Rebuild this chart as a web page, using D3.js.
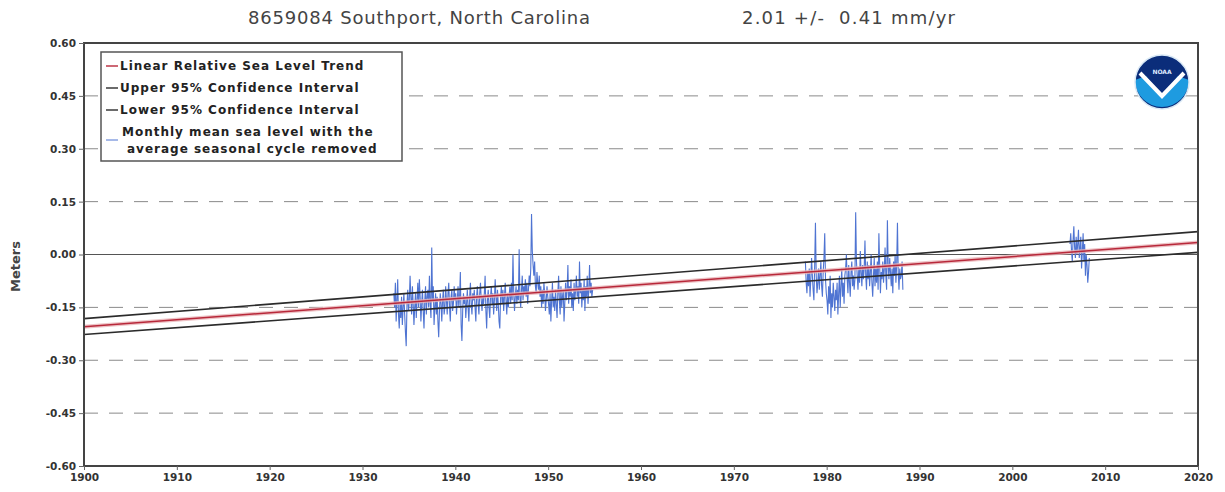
<!DOCTYPE html>
<html>
<head>
<meta charset="utf-8">
<script src="https://cdn.jsdelivr.net/npm/d3@7"></script>
<style>
  html, body { margin: 0; padding: 0; background: #fff; }
  svg { display: block; }
  text { font-family: "DejaVu Sans", Arial, sans-serif; }
</style>
</head>
<body>
<svg id="chart" width="1225" height="492"></svg>
<script>
// ---------------- DATA ----------------
const titleLeft = "8659084 Southport, North Carolina";
const titleRight = "2.01 +/-  0.41 mm/yr";
const yLabel = "Meters";
const xTicks = [1900, 1910, 1920, 1930, 1940, 1950, 1960, 1970, 1980, 1990, 2000, 2010, 2020];
const yTicks = [-0.60, -0.45, -0.30, -0.15, 0.00, 0.15, 0.30, 0.45, 0.60];
const legendLabels = [
  "Linear Relative Sea Level Trend",
  "Upper 95% Confidence Interval",
  "Lower 95% Confidence Interval",
  "Monthly mean sea level with the",
  "average seasonal cycle removed"
];

// trend lines (meters) at the ends of the axis
const trendYears = [1900, 2020];
const trendVals = [-0.205, 0.034];
const upperVals = [-0.182, 0.065];
const lowerVals = [-0.227, 0.006];

// monthly mean sea level (millimetres), segments [startYear, startMonth]
const seg1Start = [1933, 5];
const seg1 = [
  -110, -150, -80, -190, -130, -70, -170, -210,
  -140, -180, -120, -200, -150, -110, -170, -220, -260, -140, -100, -160,
  -130, -60, -120, -170, -90, -140, -200, -150, -110, -180, -130, -80,
  -150, -70, -120, -190, -140, -100, -160, -210, -130, -90, -170, -120,
  -100, -150, -60, -140, -180, 20, -130, -90, -200, -150, -110, -170,
  -120, -190, -235, -160, -110, -140, -190, -130, -100, -170, -150, -90,
  -130, -170, -110, -80, -150, -190, -120, -100, -160, -140, -90, -130,
  -110, -170, -130, -90, -150, -120, -50, -200, -245, -160, -110, -140,
  -120, -180, -140, -100, -150, -190, -120, -80, -140, -170, -110, -130,
  -100, -150, -190, -120, -90, -140, -170, -110, -80, -130, -160, -120,
  -140, -110, -60, -160, -210, -130, -100, -150, -180, -120, -90, -140,
  -110, -170, -130, -70, -120, -160, -100, -140, -190, -210, -120, -90,
  -140, -100, -160, -120, -80, -130, -170, -110, -150, -120, -90, -140,
  -80, -130, 0, -110, -160, -120, -90, -140, -100, -130, 15, -120,
  -150, -100, -60, -130, -90, -110, -70, -120, -80, -140, -100, -60,
  -90, -40, 115, 10, -30, -60, -20, -90, -110, -50, -80, -100,
  -60, -120, -90, -150, -100, -140, -80, -110, -160, -130, -90, -120,
  -140, -170, -110, -190, -130, -80, -150, -120, -160, -100, -140, -180,
  -110, -60, -130, -170, -90, -150, -120, -100, -190, -140, -80, -130,
  -100, -30, -140, -90, -120, -70, -150, -110, -160, -80, -130, -100,
  -60, -120, -90, -140, -20, -110, -80, -150, -100, -130, -70, -160,
  -90, -120, -60, -140, -100, -30, -110, -80, -120, -100
];
const seg2Start = [1977, 9];
const seg2 = [
  -20, -80, -110, -50,
  -90, -40, -120, -70, -10, -60, -100, -130, -30, 90, -60, -110,
  -80, -40, -100, -60, -20, -90, -120, -50, -10, 60, -70, -110,
  -130, -170, -90, -140, -60, -180, -110, -150, -80, -120, -160, -100,
  -130, -80, -170, -110, -60, -150, -90, -40, -120, -80, -140, -60,
  -40, 0, -70, -110, -30, -80, -120, -50, -20, -90, -60, -100,
  -70, 120, -20, -60, -100, -40, -80, 10, -50, -90, -30, -70,
  -40, 40, -60, -100, -20, -70, -30, -90, -50, 0, -80, -120,
  -60, -10, -90, -40, -80, -20, -100, 60, -30, -110, -50, -70,
  -20, -80, -40, 20, -60, -100, 97, -30, -70, -10, -50, -90,
  -40, -110, -20, -60, 0, -80, -30, 90, -50, -100, -40, -70,
  -60, -20, -100
];
const seg3Start = [2006, 3];
const seg3 = [
  30, 60, 10, -20, 40, 80, 20, -10, 50, 0,
  30, 70, -10, 20, 50, -40, 10, 60, -20, 30, -60, 0,
  -30, -80, -50, -10
];

// ---------------- CHART ----------------
const svg = d3.select("#chart");
const W = 1225, H = 492;
const m = { left: 84, right: 27, top: 43, bottom: 26 };
const x = d3.scaleLinear().domain([1900, 2020]).range([m.left, W - m.right]);
const y = d3.scaleLinear().domain([-0.6, 0.6]).range([H - m.bottom, m.top]);

function toPoints(start, vals) {
  return vals.map((v, i) => ({ t: start[0] + (start[1] - 1 + i) / 12 + 1 / 24, v: v / 1000 }));
}
const segments = [toPoints(seg1Start, seg1), toPoints(seg2Start, seg2), toPoints(seg3Start, seg3)];

// grid
const grid = svg.append("g");
grid.selectAll("line").data(yTicks.filter(d => Math.abs(d) < 0.59)).join("line")
  .attr("x1", m.left).attr("x2", W - m.right)
  .attr("y1", d => y(d)).attr("y2", d => y(d))
  .attr("stroke", d => d === 0 ? "#555" : "#8a8a8a")
  .attr("stroke-width", d => d === 0 ? 1.2 : 1)
  .attr("stroke-dasharray", d => d === 0 ? null : "14,11");

// data
const line = d3.line().x(d => x(d.t)).y(d => y(d.v));
svg.append("g").selectAll("path").data(segments).join("path")
  .attr("d", line).attr("fill", "none")
  .attr("stroke", "#4f74d2").attr("stroke-width", 1.1);

// trend lines
const trendLine = d3.line().x((d, i) => x(trendYears[i])).y(d => y(d));
svg.append("path").attr("d", trendLine(upperVals)).attr("fill", "none").attr("stroke", "#2b2b2b").attr("stroke-width", 1.6);
svg.append("path").attr("d", trendLine(lowerVals)).attr("fill", "none").attr("stroke", "#2b2b2b").attr("stroke-width", 1.6);
svg.append("path").attr("d", trendLine(trendVals)).attr("fill", "none").attr("stroke", "#e8b4b8").attr("stroke-width", 4).attr("opacity", 0.8);
svg.append("path").attr("d", trendLine(trendVals)).attr("fill", "none").attr("stroke", "#b8283a").attr("stroke-width", 1.5);

// frame
svg.append("rect").attr("x", m.left).attr("y", m.top)
  .attr("width", W - m.left - m.right).attr("height", H - m.top - m.bottom)
  .attr("fill", "none").attr("stroke", "#444").attr("stroke-width", 2);

// axes
const fmt = d3.format(".2f");
const yAxis = d3.axisLeft(y).tickValues(yTicks).tickFormat(d => fmt(d).replace("\u2212", "-")).tickSize(5).tickPadding(3);
const gy = svg.append("g").attr("transform", `translate(${m.left},0)`).call(yAxis);
const xAxis = d3.axisBottom(x).tickValues(xTicks).tickFormat(d3.format("d")).tickSize(4).tickPadding(4);
const gx = svg.append("g").attr("transform", `translate(0,${H - m.bottom})`).call(xAxis);
[gy, gx].forEach(g => {
  g.select(".domain").remove();
  g.selectAll(".tick line").attr("stroke", "#666");
  g.selectAll("text").attr("fill", "#333").attr("font-size", 10.5).attr("font-weight", "bold")
    .attr("font-family", "DejaVu Sans, sans-serif");
});

// y label
svg.append("text").attr("transform", `translate(20,${y(0) + 12}) rotate(-90)`)
  .attr("text-anchor", "middle").attr("font-size", 13).attr("font-weight", "bold")
  .attr("fill", "#444").text(yLabel);

// titles
svg.append("text").attr("x", 248).attr("y", 24)
  .attr("font-size", 18).attr("fill", "#444")
  .attr("textLength", 342).attr("lengthAdjust", "spacing").text(titleLeft);
svg.append("text").attr("x", 742).attr("y", 24)
  .attr("font-size", 18).attr("fill", "#444").style("white-space", "pre")
  .attr("textLength", 213).attr("lengthAdjust", "spacing").text(titleRight);

// legend
const lg = svg.append("g");
lg.append("rect").attr("x", 101).attr("y", 52).attr("width", 301).attr("height", 109)
  .attr("fill", "#fff").attr("stroke", "#555").attr("stroke-width", 1.5);
const legItems = [
  { label: legendLabels[0], color: "#b8283a", yy: 66 },
  { label: legendLabels[1], color: "#2b2b2b", yy: 88 },
  { label: legendLabels[2], color: "#2b2b2b", yy: 110 }
];
const legFont = { size: 12, spacing: 1 };
legItems.forEach(it => {
  lg.append("line").attr("x1", 106).attr("x2", 118).attr("y1", it.yy).attr("y2", it.yy)
    .attr("stroke", it.color).attr("stroke-width", 1.4);
  lg.append("text").attr("x", 120).attr("y", it.yy + 4).attr("font-size", legFont.size)
    .attr("letter-spacing", legFont.spacing)
    .attr("font-weight", "bold").attr("fill", "#222").text(it.label);
});
lg.append("line").attr("x1", 106).attr("x2", 118).attr("y1", 140).attr("y2", 140)
  .attr("stroke", "#4f74d2").attr("stroke-width", 1);
lg.append("text").attr("x", 122).attr("y", 136).attr("font-size", legFont.size)
  .attr("letter-spacing", legFont.spacing)
  .attr("font-weight", "bold").attr("fill", "#222").text(legendLabels[3]);
lg.append("text").attr("x", 127).attr("y", 153).attr("font-size", legFont.size)
  .attr("letter-spacing", legFont.spacing)
  .attr("font-weight", "bold").attr("fill", "#222").text(legendLabels[4]);

// NOAA logo (decorative)
const logo = svg.append("g").attr("transform", "translate(1162,82)");
logo.append("circle").attr("r", 27).attr("fill", "#0b2d7a");
logo.append("path").attr("d", "M-27,-2 A27,27 0 0,0 27,-2 L16,-6 L0,14 L-16,-6 Z").attr("fill", "#1e9be0");
logo.append("path").attr("d", "M-22,-9 L0,14 L22,-9").attr("fill", "none").attr("stroke", "#fff").attr("stroke-width", 4);
logo.append("circle").attr("r", 27).attr("fill", "none").attr("stroke", "#d8e8f5").attr("stroke-width", 1.5);
logo.append("text").attr("y", -8).attr("text-anchor", "middle").attr("font-size", 6)
  .attr("font-weight", "bold").attr("fill", "#dfe9ff").text("NOAA");
</script>
</body>
</html>
